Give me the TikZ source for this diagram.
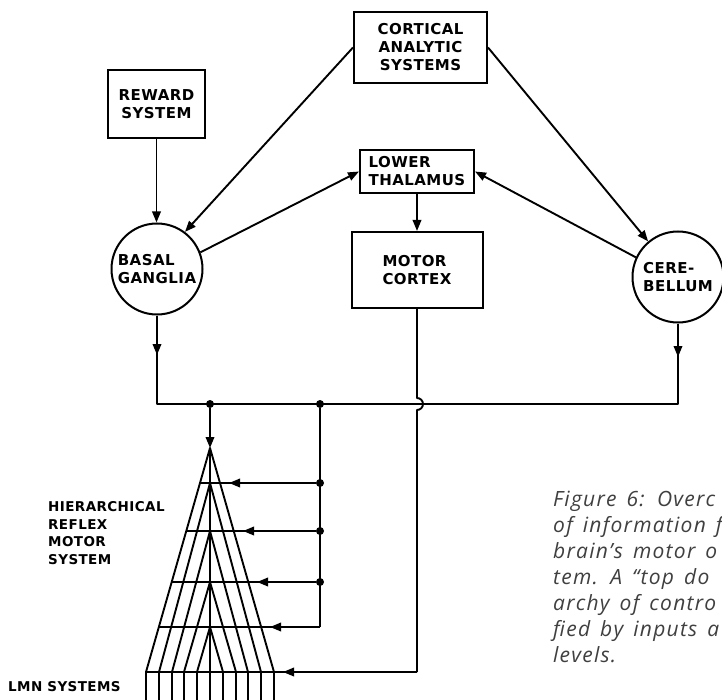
\documentclass[tikz,border=0pt]{standalone}
\usepackage{fontspec}
\usetikzlibrary{arrows.meta}
\newfontfamily\leroy[LetterSpace=3]{DejaVu Sans}
\newfontfamily\capfont[LetterSpace=6,WordSpace=1.5]{Open Sans}
\tikzset{
  block/.style={draw, line width=2pt, inner sep=0pt, align=center,
    font=\leroy\bfseries\fontsize{15}{18}\selectfont},
  nucleus/.style={block, circle, minimum size=91pt, align=left},
  wire/.style={line width=1.9pt, line join=round},
  arr/.style={wire, -{Triangle[length=11pt,width=8.5pt]}},
  junction/.style={circle, fill, inner sep=0pt, minimum size=8pt},
  sidelab/.style={anchor=west, align=left, inner sep=0pt,
    font=\leroy\bfseries\fontsize{13.5}{17.5}\selectfont},
  caption/.style={anchor=north west, align=left, inner sep=0pt, text=black!75,
    font=\capfont\itshape\fontsize{21}{26}\selectfont}
}
\begin{document}
\begin{tikzpicture}[x=1pt,y=-1pt]
\clip (0,0) rectangle (722,700);
\fill[white] (0,0) rectangle (722,700);

% ---------------- Upper level: centres ----------------
\node[block, minimum width=133pt, minimum height=71pt] (cas) at (420.5,47.5) {CORTICAL\\ANALYTIC\\SYSTEMS};
\node[block, minimum width=97pt, minimum height=68pt] (rs) at (156.5,104) {REWARD\\SYSTEM};
\node[block, minimum width=114pt, minimum height=43pt, align=left] (lt) at (417,171.5) {LOWER\\THALAMUS};
\node[block, minimum width=131pt, minimum height=76pt, align=left] (mc) at (417,270) {MOTOR\\CORTEX};
\node[nucleus] (bg) at (157,269) {BASAL\\GANGLIA};
\node[nucleus] (ceb) at (678,277) {CERE-\\BELLUM};

\draw[arr] (rs.south) -- (rs.south |- bg.north);
\draw[arr] (cas.west) -- (bg.53);
\draw[arr] (cas.east) -- (ceb.130);
\draw[arr] (bg.21) -- (lt.west);
\draw[arr] (ceb.155) -- (lt.east);
\draw[arr] (lt.south) -- (mc.north);

% ---------------- Common output bus ----------------
\coordinate (busL) at (157,404);
\coordinate (busR) at (678,404);
\coordinate (bgTip) at (157,355);
\coordinate (cbTip) at (678,357);
\node[junction] (j1) at (210,404) {};
\node[junction] (j2) at (320,404) {};
\draw[wire] (bg.south) -- (busL) -- (busR) -- (ceb.south);
\draw[arr] (bg.south) -- (bgTip);
\draw[arr] (ceb.south) -- (cbTip);

% ---------------- Motor cortex line (hops the bus) ----------------
\coordinate (hopT) at (417,398);
\coordinate (mcCorner) at (417,672);
\draw[wire] (mc.south) -- (hopT) arc[start angle=-90, end angle=90, radius=6] -- (mcCorner);

% ---------------- Feeds into the hierarchy ----------------
\node[junction] (j3) at (320,483) {};
\node[junction] (j4) at (320,531) {};
\node[junction] (j5) at (320,582) {};
\coordinate (j6) at (320,627);
\draw[wire] (j2) -- (j6);
\coordinate (apex) at (210,448);
\coordinate (t1) at (229,483);
\coordinate (t2) at (243,531);
\coordinate (t3) at (257,582);
\coordinate (t4) at (270,627);
\coordinate (t5) at (283,672);
\draw[arr] (j1) -- (apex);
\draw[arr] (j3) -- (t1);
\draw[arr] (j4) -- (t2);
\draw[arr] (j5) -- (t3);
\draw[arr] (j6) -- (t4);
\draw[arr] (mcCorner) -- (t5);

% ---------------- Hierarchical reflex triangle ----------------
\draw[wire] (146,672) -- (apex) -- (274,672);
\draw[wire] (159,672) -- (210,483) -- (261,672);
\draw[wire] (172,672) -- (210,531) -- (248,672);
\draw[wire] (184,672) -- (210,582) -- (236,672);
\draw[wire] (197,672) -- (210,627) -- (223,672);
\draw[wire] (apex) -- (210,702);
\draw[wire] (200,483) -- (j3);
\draw[wire] (186.3,531) -- (j4);
\draw[wire] (171.7,582) -- (j5);
\draw[wire] (158.9,627) -- (j6);
\draw[wire] (146,672) -- (mcCorner);
\draw[wire] (146,672) -- (146,702) (159,672) -- (159,702) (172,672) -- (172,702)
  (184,672) -- (184,702) (197,672) -- (197,702) (223,672) -- (223,702)
  (236,672) -- (236,702) (248,672) -- (248,702) (261,672) -- (261,702)
  (274,672) -- (274,702);

% ---------------- Labels ----------------
\node[sidelab] (hrms) at (48,533) {HIERARCHICAL\\REFLEX\\MOTOR\\SYSTEM};
\node[sidelab] (lmn) at (8,687) {LMN SYSTEMS};
\node[caption] (cap) at (553,491) {Figure 6: Overc\\of information f\\brain’s motor o\\tem. A “top do\\archy of contro\\fied by inputs a\\levels.};

\end{tikzpicture}
\end{document}
